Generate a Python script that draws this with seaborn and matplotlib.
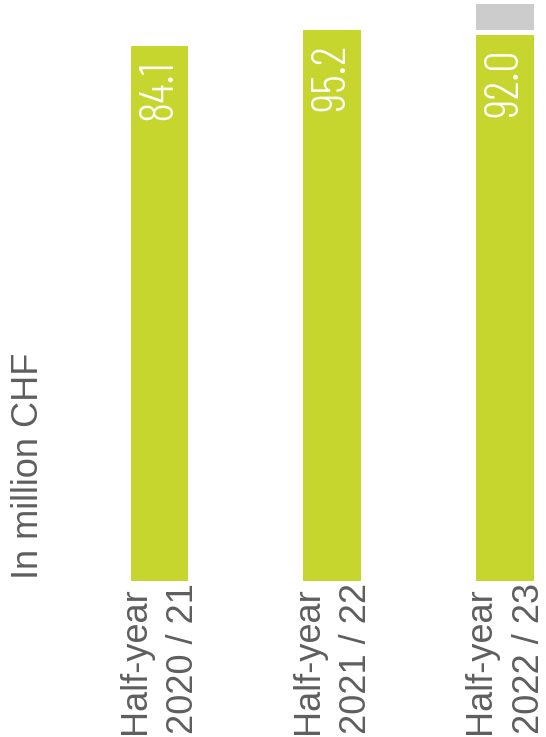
import matplotlib
matplotlib.use("Agg")
import matplotlib.pyplot as plt
import seaborn as sns
import pandas as pd
import numpy as np

# ---- data ----
categories = ["Half-year\n2020 / 21", "Half-year\n2021 / 22", "Half-year\n2022 / 23"]
values = [84.1, 95.2, 92.0]
other = [0.0, 0.0, 18.0]          # grey segment on top of the last bar
value_labels = ["84.1", "95.2", "92.0"]
axis_label = "In million CHF"

# ---- style ----
GREEN = "#C6D62E"
GREY_BAR = "#CCCCCC"
TEXT = "#5E5E5E"
BASE = -288.0     # hidden axis baseline (bars are drawn from here)
GAP = 3.5         # white gap between green and grey segment (data units)
YTOP = 116.1

sns.set_theme(style="white")
plt.rcParams["font.family"] = ["Liberation Sans", "DejaVu Sans"]

df = pd.DataFrame({"period": categories, "value": values, "other": other})
df["span"] = df["value"] - BASE

fig = plt.figure(figsize=(5.46, 7.37), dpi=100)
ax = fig.add_axes([0.0, 156.3 / 737, 1.0, 580.7 / 737])

sns.barplot(data=df, x="period", y="span", color=GREEN, saturation=1,
            width=0.335, bottom=BASE, linewidth=0, ax=ax)
sns.barplot(data=df, x="period", y="other", color=GREY_BAR, saturation=1,
            width=0.335, bottom=df["value"] + GAP, linewidth=0, ax=ax)

ax.set_ylim(BASE, YTOP)
ax.set_xlim(-0.923, 2.237)

for i, (v, lab) in enumerate(zip(values, value_labels)):
    ax.annotate(lab, xy=(i, v), xytext=(0, -10), textcoords="offset points",
                rotation=90, ha="center", va="top", color="white",
                fontsize=35, fontweight=300,
                family=["Barlow Condensed", "DejaVu Sans"])

ax.set_xticks(range(len(categories)))
ax.set_xticklabels(categories, rotation=90, fontsize=26, color=TEXT,
                   va="top", ha="center", multialignment="left",
                   linespacing=1.5)
ax.tick_params(axis="x", length=0, pad=1.5)
ax.set_yticks([])
ax.set_xlabel("")
ax.set_ylabel("")
for s in ax.spines.values():
    s.set_visible(False)

fig.text(11 / 546, (737 - 579) / 737, axis_label, rotation=90, ha="left",
         va="bottom", fontsize=26, color=TEXT)

fig.savefig("out.png", dpi=100, facecolor="white")
